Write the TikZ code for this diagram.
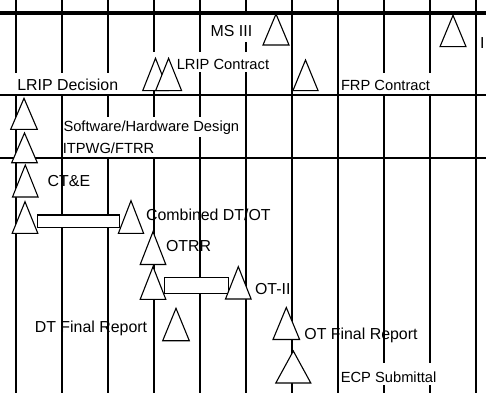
\documentclass[tikz,border=0pt]{standalone}
\usepackage{fontspec}
\setmainfont{Liberation Sans}
\newcommand{\mstri}[5]{%
  \coordinate (#1) at (#2,#3);
  \draw[tristyle] (#1) -- ++(-#4,#5) -- ++(2*#4,0) -- cycle;}
\begin{document}
\begin{tikzpicture}[x=1pt,y=-1pt,
  vline/.style={line width=2.3pt},
  hline/.style={line width=2.3pt},
  topline/.style={line width=3.8pt},
  tristyle/.style={draw=black,fill=white,line width=1.1pt,line join=miter},
  barbox/.style={draw=black,fill=white,line width=1.1pt},
  mask/.style={fill=white},
  lbl/.style={inner sep=0pt,anchor=base west,font=\fontsize{15.9}{18}\selectfont},
  slbl/.style={inner sep=0pt,anchor=base west,font=\fontsize{14.7}{17}\selectfont}]
\useasboundingbox (0,0) rectangle (486,393);
\fill[white] (0,0) rectangle (486,393);
% grid
\foreach \k in {0,...,10} {
  \draw[vline] ({16+45.97*\k},0) -- ({16+45.97*\k},393);
}
\draw[topline] (0,13) -- (486,13);
\draw[hline] (0,95) -- (486,95);
\draw[hline] (0,158) -- (486,158);
% label masks
\fill[mask] (204,15.2) rectangle (259,42);
\fill[mask] (150,52.5) rectangle (272,72.5);
\fill[mask] (9,73) rectangle (125,93.8);
\fill[mask] (340,73) rectangle (436,93.8);
\fill[mask] (63.3,117) rectangle (242,137);
\fill[mask] (63.3,137) rectangle (160,156.8);
\fill[mask] (340,363) rectangle (436,385);
% bars
\draw[barbox] (37.3,215) rectangle (119.3,227.7);
\draw[barbox] (164.3,277.3) rectangle (228.3,293.3);
% triangles
\mstri{msiii}{276}{14}{13}{31}
\mstri{ioc}{453}{15.3}{13}{31.4}
\mstri{lripa}{155.5}{58.3}{12.8}{32.4}
\mstri{lripb}{168.6}{58.3}{13}{32.4}
\mstri{frp}{305.5}{60}{12.6}{30.7}
\mstri{ta}{24}{98.3}{13.3}{31}
\mstri{tb}{24.5}{133}{12.8}{29.7}
\mstri{tc}{25.3}{165}{12.8}{32}
\mstri{td}{25}{201.7}{12.8}{31.6}
\mstri{te}{131}{200.7}{12.6}{32.6}
\mstri{tf}{153}{231.7}{12.8}{32.8}
\mstri{tg}{153}{266.7}{12.8}{32.6}
\mstri{th}{238.3}{266.7}{12.8}{32.3}
\mstri{ti}{176}{308.3}{13.3}{32.4}
\mstri{tj}{286.3}{307.5}{13.3}{32}
\mstri{tk}{293.3}{351}{17.5}{32}
% labels
\node[lbl]  (lmsiii) at (210.5,36.7)  {MS III};
\node[lbl]  (lioc)   at (480,48.3)    {I};
\node[slbl] (llripc) at (176.6,69.3)  {LRIP Contract};
\node[lbl]  (llripd) at (17.2,90.7)   {LRIP Decision};
\node[slbl] (lfrp)   at (340.8,90.7)  {FRP Contract};
\node[slbl] (lsw)    at (63.3,131.7)  {Software/Hardware Design};
\node[slbl] (litp)   at (62.6,153.3)  {ITPWG/FTRR};
\node[lbl]  (lcte)   at (47.5,186)    {CT\&E};
\node[lbl]  (lcomb)  at (145.9,220.7) {Combined DT/OT};
\node[lbl]  (lotrr)  at (165.9,251.7) {OTRR};
\node[lbl]  (lotii)  at (254.9,294.3) {OT-II};
\node[lbl]  (ldtf)   at (34.7,332.7)  {DT Final Report};
\node[lbl]  (lotf)   at (304.2,339)   {OT Final Report};
\node[slbl] (lecp)   at (340.6,382.5) {ECP Submittal};
\end{tikzpicture}
\end{document}
